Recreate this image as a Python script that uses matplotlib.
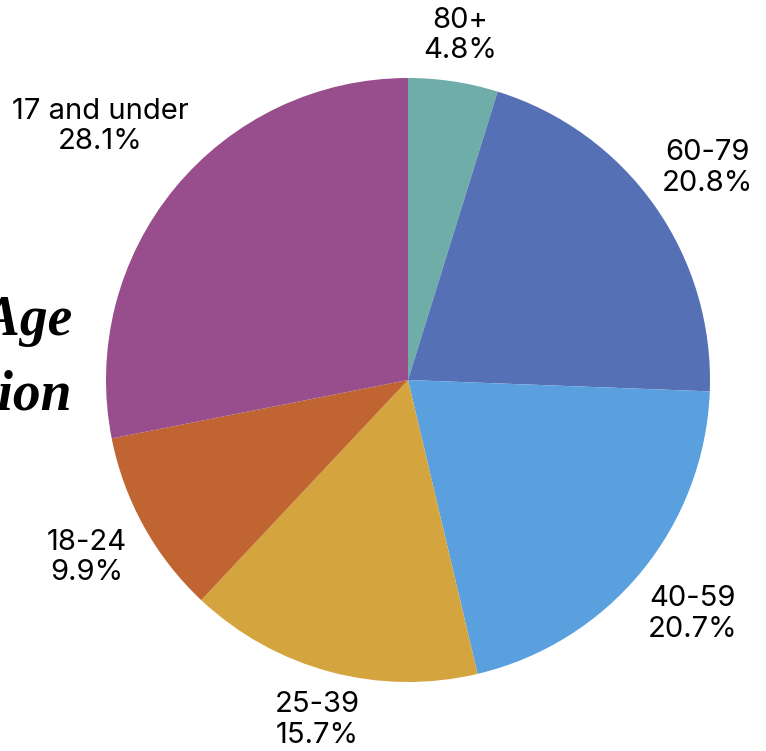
import matplotlib.pyplot as plt

plt.rcParams["font.family"] = ["Inter", "DejaVu Sans"]

groups = ["80+", "60-79", "40-59", "25-39", "18-24", "17 and under"]
shares = [4.8, 20.8, 20.7, 15.7, 9.9, 28.1]
colors = ["#6eada8", "#5570b4", "#5aa0de", "#d4a43e", "#c06432", "#984e8c"]

W, H = 766, 751
fig = plt.figure(figsize=(W / 100, H / 100), dpi=100)
# pie box: x 106..710, y 78..682 (pixels)
ax = fig.add_axes([106 / W, (H - 682) / H, 604 / W, 604 / H])

labels = [g + "\n" + f"{s:.1f}%" for g, s in zip(groups, shares)]
wedges, texts = ax.pie(
    shares,
    colors=colors,
    startangle=90,
    counterclock=False,
    labels=labels,
    labeldistance=1.2,
    wedgeprops=dict(linewidth=0),
    textprops=dict(fontsize=21, ha="center", va="center", linespacing=1.15),
)
# tweak individual label distances to follow the reference
dist = [1.155, 1.215, 1.22, 1.165, 1.215, 1.32]
for t, d in zip(texts, dist):
    x, y = t.get_position()
    t.set_position((x / 1.2 * d, y / 1.2 * d))
    t.set_ha("center")
    t.set_clip_on(False)

ax.set_xlim(-1, 1)
ax.set_ylim(-1, 1)
ax.axis("off")

# title, mostly cut off at the left edge
title_kw = dict(fontsize=40, fontweight="bold", fontstyle="italic",
                family="Liberation Serif", ha="right", va="baseline",
                transform=fig.transFigure)
fig.text(72 / W, 1 - 335 / H, "Population by Age", **title_kw)
fig.text(72 / W, 1 - 410 / H, "Distribution", **title_kw)

fig.savefig("out.png", dpi=100)
